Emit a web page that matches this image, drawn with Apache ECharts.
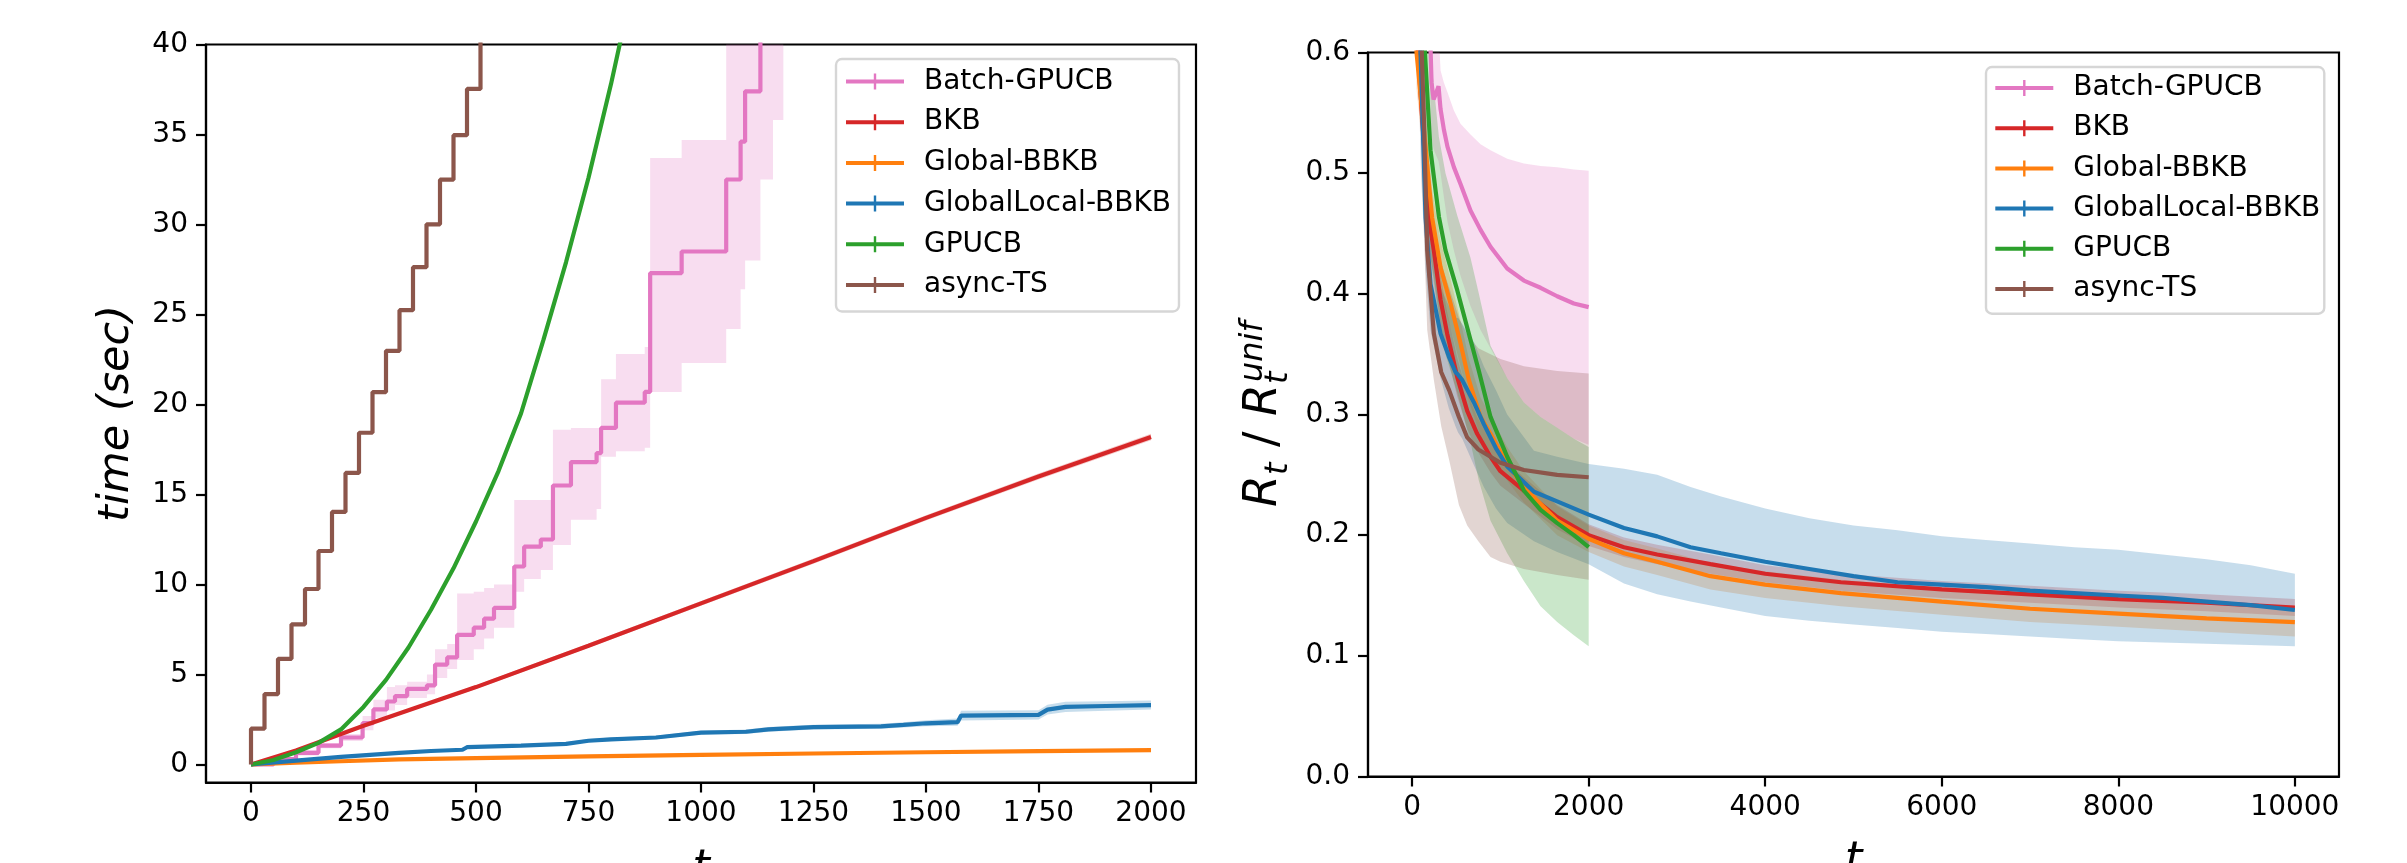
<!DOCTYPE html>
<html>
<head>
<meta charset="utf-8">
<title>Batch BO: time and regret</title>
<script src="https://cdn.jsdelivr.net/npm/echarts@6.0.0/dist/echarts.min.js"></script>
<style>
  html, body { margin: 0; padding: 0; background: #fff; }
  #chart { width: 2407px; height: 863px; }
</style>
</head>
<body>
<div id="chart"></div>
<script>
// -----------------------------------------------------------------------------
// Left: wall-clock time vs t. Right: normalised regret R_t / R_t^unif vs t.
// Values.
// -----------------------------------------------------------------------------
const METHODS = ["Batch-GPUCB", "BKB", "Global-BBKB", "GlobalLocal-BBKB", "GPUCB", "async-TS"];
const COLORS = {
  "Batch-GPUCB": "227,119,194",
  "BKB": "214,39,40",
  "Global-BBKB": "255,127,14",
  "GlobalLocal-BBKB": "31,119,180",
  "GPUCB": "44,160,44",
  "async-TS": "140,86,75"
};

// tick labels
const timeTicksT = [0, 250, 500, 750, 1000, 1250, 1500, 1750, 2000];
const timeTicksY = [0, 5, 10, 15, 20, 25, 30, 35, 40];
const ratioTicksT = [0, 2000, 4000, 6000, 8000, 10000];
const ratioTicksY = [0, 0.1, 0.2, 0.3, 0.4, 0.5, 0.6];

// --- left panel: time (sec) ---
const batchT = [0, 50, 100, 150, 200, 248, 272, 302, 320, 347, 391, 409, 436, 458, 495, 518, 540, 585, 607, 644, 671, 711, 768, 778, 811, 875, 887, 957, 1056, 1088, 1098, 1132, 1160, 1183];
const batchTime = [0, 0.3, 0.65, 1.05, 1.5, 2.3, 3.06, 3.5, 3.8, 4.2, 4.4, 5.55, 5.95, 7.2, 7.6, 8.1, 8.7, 11.0, 12.1, 12.5, 15.5, 16.8, 17.3, 18.7, 20.1, 20.7, 27.3, 28.5, 32.5, 34.6, 37.4, 43, 43, 43];
const batchTimeLo = [0, 0.2, 0.5, 0.9, 1.3, 1.9, 2.6, 3.0, 3.3, 3.7, 3.9, 4.8, 5.3, 5.8, 6.4, 7.0, 7.6, 9.6, 10.3, 10.8, 12.2, 13.6, 14.2, 17.1, 17.4, 17.6, 20.7, 22.3, 24.2, 26.4, 28.0, 32.5, 35.8, 35.8];
const batchTimeHi = [0, 0.4, 0.8, 1.2, 1.7, 2.7, 3.6, 4.3, 4.4, 4.6, 5.0, 6.4, 6.7, 9.5, 9.6, 9.8, 10.0, 14.7, 14.7, 14.7, 18.6, 18.7, 18.7, 21.4, 22.8, 23.2, 33.7, 34.7, 46, 46, 46, 46, 46, 46];

const bkbT = [0, 100, 250, 500, 750, 1000, 1250, 1500, 1750, 2000];
const bkbTime = [0, 0.78, 2.15, 4.3, 6.6, 8.95, 11.3, 13.7, 16.0, 18.2];
const bkbTimeLo = [0, 0.74, 2.08, 4.2, 6.48, 8.82, 11.15, 13.55, 15.84, 18.02];
const bkbTimeHi = [0, 0.82, 2.22, 4.4, 6.72, 9.08, 11.45, 13.85, 16.16, 18.38];

const globalT = [0, 100, 200, 329, 500, 750, 1000, 1250, 1500, 1750, 2000];
const globalTime = [0, 0.1, 0.18, 0.28, 0.35, 0.45, 0.53, 0.61, 0.68, 0.74, 0.8];
const globalTimeLo = [0, 0.08, 0.15, 0.24, 0.31, 0.41, 0.49, 0.56, 0.63, 0.69, 0.75];
const globalTimeHi = [0, 0.12, 0.21, 0.32, 0.39, 0.49, 0.57, 0.66, 0.73, 0.79, 0.85];

const localT = [0, 100, 200, 329, 400, 470, 480, 600, 700, 750, 800, 900, 1000, 1100, 1150, 1250, 1400, 1450, 1500, 1570, 1578, 1750, 1770, 1810, 1900, 2000];
const localTime = [0, 0.22, 0.42, 0.65, 0.75, 0.82, 0.96, 1.05, 1.15, 1.32, 1.4, 1.5, 1.77, 1.82, 1.95, 2.08, 2.12, 2.2, 2.29, 2.35, 2.72, 2.76, 3.05, 3.2, 3.25, 3.3];
const localTimeLo = [0, 0.2, 0.39, 0.6, 0.7, 0.77, 0.9, 0.98, 1.07, 1.23, 1.3, 1.4, 1.66, 1.7, 1.82, 1.95, 1.98, 2.05, 2.12, 2.15, 2.45, 2.5, 2.78, 2.92, 2.98, 3.05];
const localTimeHi = [0, 0.24, 0.45, 0.7, 0.8, 0.87, 1.02, 1.12, 1.23, 1.41, 1.5, 1.6, 1.88, 1.94, 2.08, 2.21, 2.26, 2.35, 2.46, 2.55, 2.99, 3.02, 3.32, 3.48, 3.52, 3.55];

const gpucbT = [0, 50, 100, 150, 200, 250, 300, 350, 400, 450, 500, 550, 600, 650, 700, 750, 800, 850];
const gpucbTime = [0, 0.25, 0.68, 1.2, 1.95, 3.2, 4.7, 6.5, 8.6, 10.9, 13.5, 16.3, 19.5, 23.6, 27.9, 32.6, 37.8, 43.5];

const asyncT = [0, 0, 30, 60, 90, 120, 150, 180, 210, 240, 270, 300, 330, 360, 390, 420, 450, 480, 510];
const asyncTime = [0, 1.99, 3.91, 5.87, 7.79, 9.75, 11.86, 14.03, 16.2, 18.43, 20.69, 22.98, 25.24, 27.63, 30.01, 32.49, 34.96, 37.53, 42];

// --- right panel: R_t / R_t^unif ---
const batchRT = [0, 150, 220, 243, 270, 299, 322, 360, 400, 473, 548, 661, 775, 888, 1077, 1266, 1455, 1643, 1832, 2000];
const batchRatio = [1.0, 0.75, 0.575, 0.561, 0.566, 0.572, 0.553, 0.536, 0.522, 0.505, 0.491, 0.469, 0.453, 0.439, 0.421, 0.411, 0.405, 0.398, 0.392, 0.389];
const batchRatioLo = [1.0, 0.7, 0.53, 0.52, 0.515, 0.51, 0.5, 0.48, 0.46, 0.436, 0.415, 0.39, 0.37, 0.355, 0.33, 0.31, 0.298, 0.289, 0.28, 0.275];
const batchRatioHi = [1.1, 0.8, 0.66, 0.65, 0.64, 0.62, 0.585, 0.575, 0.567, 0.552, 0.541, 0.532, 0.524, 0.519, 0.512, 0.508, 0.506, 0.505, 0.503, 0.502];

const bkbRT = [0, 65, 189, 246, 322, 397, 511, 624, 737, 888, 1000, 1266, 1643, 2000, 2400, 2776, 3380, 4000, 4858, 6000, 7000, 8000, 9000, 10000];
const bkbRatio = [1.0, 0.6, 0.463, 0.436, 0.395, 0.367, 0.331, 0.303, 0.284, 0.265, 0.253, 0.237, 0.215, 0.2, 0.19, 0.184, 0.176, 0.168, 0.161, 0.155, 0.151, 0.147, 0.144, 0.14];
const bkbRatioLo = [0.96, 0.57, 0.438, 0.414, 0.375, 0.349, 0.315, 0.288, 0.27, 0.252, 0.241, 0.226, 0.205, 0.191, 0.182, 0.176, 0.168, 0.161, 0.154, 0.148, 0.144, 0.14, 0.137, 0.133];
const bkbRatioHi = [1.04, 0.63, 0.488, 0.458, 0.415, 0.385, 0.347, 0.318, 0.298, 0.278, 0.265, 0.248, 0.225, 0.209, 0.198, 0.192, 0.184, 0.175, 0.168, 0.162, 0.158, 0.154, 0.151, 0.147];

const globalRT = [0, 50, 227, 322, 435, 548, 643, 775, 888, 1077, 1266, 1643, 2000, 2400, 2776, 3380, 4000, 4858, 6000, 7000, 8000, 9000, 10000];
const globalRatio = [1.0, 0.6, 0.463, 0.422, 0.392, 0.359, 0.3285, 0.298, 0.284, 0.259, 0.24, 0.212, 0.197, 0.185, 0.178, 0.166, 0.159, 0.152, 0.145, 0.139, 0.135, 0.131, 0.128];
const globalRatioLo = [0.95, 0.57, 0.44, 0.4, 0.372, 0.34, 0.311, 0.282, 0.269, 0.245, 0.227, 0.2, 0.186, 0.174, 0.167, 0.155, 0.148, 0.141, 0.134, 0.128, 0.124, 0.12, 0.116];
const globalRatioHi = [1.05, 0.63, 0.486, 0.444, 0.412, 0.378, 0.346, 0.314, 0.299, 0.273, 0.253, 0.224, 0.208, 0.196, 0.189, 0.177, 0.17, 0.163, 0.156, 0.15, 0.146, 0.142, 0.14];

const localRT = [0, 95, 152, 208, 322, 416, 492, 520, 568, 700, 812, 950, 1077, 1380, 1643, 2000, 2400, 2776, 3154, 3500, 4000, 4500, 5000, 5500, 6000, 6500, 7000, 7500, 8000, 8500, 9000, 9500, 10000];
const localRatio = [1.0, 0.6, 0.463, 0.408, 0.367, 0.348, 0.335, 0.333, 0.3285, 0.31, 0.292, 0.272, 0.257, 0.236, 0.228, 0.217, 0.206, 0.199, 0.19, 0.185, 0.178, 0.172, 0.166, 0.161, 0.159, 0.157, 0.154, 0.152, 0.15, 0.148, 0.145, 0.142, 0.138];
const localRatioLo = [0.9, 0.55, 0.42, 0.37, 0.33, 0.305, 0.29, 0.285, 0.28, 0.258, 0.24, 0.222, 0.21, 0.195, 0.186, 0.176, 0.16, 0.151, 0.145, 0.14, 0.133, 0.129, 0.126, 0.123, 0.12, 0.118, 0.116, 0.114, 0.112, 0.111, 0.11, 0.109, 0.108];
const localRatioHi = [1.1, 0.65, 0.51, 0.45, 0.405, 0.39, 0.38, 0.38, 0.375, 0.36, 0.34, 0.32, 0.3, 0.27, 0.265, 0.259, 0.255, 0.25, 0.24, 0.232, 0.222, 0.214, 0.208, 0.204, 0.199, 0.196, 0.193, 0.19, 0.188, 0.184, 0.18, 0.175, 0.168];

const gpucbRT = [0, 100, 145, 208, 303, 378, 511, 661, 756, 888, 1077, 1266, 1455, 1643, 1832, 2000];
const gpucbRatio = [1.0, 0.75, 0.6, 0.519, 0.464, 0.436, 0.403, 0.362, 0.336, 0.298, 0.265, 0.237, 0.221, 0.21, 0.2, 0.19];
const gpucbRatioLo = [0.9, 0.62, 0.5, 0.43, 0.38, 0.35, 0.318, 0.277, 0.245, 0.212, 0.185, 0.162, 0.141, 0.128, 0.117, 0.108];
const gpucbRatioHi = [1.1, 0.88, 0.7, 0.6, 0.53, 0.5, 0.465, 0.43, 0.4, 0.357, 0.33, 0.31, 0.298, 0.289, 0.28, 0.273];

const asyncRT = [0, 100, 133, 171, 246, 330, 420, 530, 624, 750, 888, 1000, 1266, 1643, 2000];
const asyncRatio = [1.0, 0.62, 0.546, 0.436, 0.367, 0.335, 0.32, 0.298, 0.281, 0.271, 0.265, 0.26, 0.254, 0.25, 0.248];
const asyncRatioLo = [0.8, 0.5, 0.45, 0.37, 0.3285, 0.29, 0.262, 0.225, 0.208, 0.195, 0.182, 0.178, 0.172, 0.167, 0.163];
const asyncRatioHi = [1.2, 0.75, 0.65, 0.53, 0.45, 0.425, 0.405, 0.38, 0.366, 0.355, 0.35, 0.346, 0.34, 0.336, 0.334];

// -----------------------------------------------------------------------------
const FONT = "DejaVu Sans";
const LINE_WIDTH = 4.2;
const BAND_ALPHA = 0.25;
const SPINE = 2.2;
// legend handle: a line with a small vertical bar (errorbar style)
const LEGEND_ICON = "path://M0,6H58V10H0Z M27.8,0H30.2V16H27.8Z";

const solid = (name) => `rgb(${COLORS[name]})`;

// post-step outline: value i is held until t[i+1]
function stepEdge(ts, vs) {
  const out = [];
  for (let i = 0; i < ts.length; i++) {
    out.push([ts[i], vs[i]]);
    if (i + 1 < ts.length) out.push([ts[i + 1], vs[i]]);
  }
  return out;
}

function bandSeries(name, axis, ts, lo, hi, step) {
  const upper = step ? stepEdge(ts, hi) : ts.map((t, i) => [t, hi[i]]);
  const lower = step ? stepEdge(ts, lo) : ts.map((t, i) => [t, lo[i]]);
  const outline = upper.concat(lower.reverse());
  return {
    type: "custom",
    name: name + " band",
    xAxisIndex: axis,
    yAxisIndex: axis,
    data: [[0, 0]],
    clip: true,
    silent: true,
    z: 1,
    renderItem: (params, api) => ({
      type: "polygon",
      shape: { points: outline.map((p) => api.coord(p)) },
      style: { fill: `rgba(${COLORS[name]}, ${BAND_ALPHA})` }
    })
  };
}

function lineSeries(name, axis, ts, vs, step) {
  return {
    type: "line",
    name,
    xAxisIndex: axis,
    yAxisIndex: axis,
    data: ts.map((t, i) => [t, vs[i]]),
    showSymbol: false,
    symbol: "none",
    step: step ? "end" : false,
    lineStyle: { width: LINE_WIDTH, color: solid(name) },
    itemStyle: { color: solid(name) },
    silent: true,
    z: 3
  };
}

function axisCommon(ticks, fmt, margin, extra) {
  return Object.assign({
    type: "value",
    axisLine: { show: true, onZero: false, lineStyle: { color: "#000", width: SPINE } },
    axisTick: { show: true, length: 10, customValues: ticks, lineStyle: { color: "#000", width: SPINE } },
    axisLabel: { customValues: ticks, formatter: fmt, margin, fontSize: 28, color: "#000", fontFamily: FONT },
    splitLine: { show: false }
  }, extra);
}

function legendBox(left, top, gap, padding) {
  return {
    data: METHODS,
    orient: "vertical",
    left,
    top,
    padding,
    itemGap: gap,
    itemWidth: 58,
    itemHeight: 16,
    icon: LEGEND_ICON,
    selectedMode: false,
    itemStyle: { borderWidth: 0 },
    textStyle: { fontSize: 28, color: "#000", fontFamily: FONT, padding: [0, 0, 0, 15] },
    backgroundColor: "rgba(255,255,255,0.8)",
    borderColor: "#d6d6d6",
    borderWidth: 2.4,
    borderRadius: 6
  };
}

// pieces of the mathtext label R_t / R_t^unif, in the rotated frame
function mathPiece(text, x, baseline, size, italic) {
  return {
    type: "text",
    style: {
      text,
      x,
      y: baseline - 0.346 * size,
      fontSize: size,
      fontStyle: italic ? "italic" : "normal",
      fontFamily: FONT,
      fill: "#000",
      align: "left",
      verticalAlign: "middle"
    }
  };
}

const plainInt = (v) => String(v);
const oneDecimal = (v) => v.toFixed(1);

const series = [
  bandSeries("Batch-GPUCB", 0, batchT, batchTimeLo, batchTimeHi, true),
  bandSeries("BKB", 0, bkbT, bkbTimeLo, bkbTimeHi, false),
  bandSeries("Global-BBKB", 0, globalT, globalTimeLo, globalTimeHi, false),
  bandSeries("GlobalLocal-BBKB", 0, localT, localTimeLo, localTimeHi, false),

  bandSeries("Batch-GPUCB", 1, batchRT, batchRatioLo, batchRatioHi, false),
  bandSeries("BKB", 1, bkbRT, bkbRatioLo, bkbRatioHi, false),
  bandSeries("Global-BBKB", 1, globalRT, globalRatioLo, globalRatioHi, false),
  bandSeries("GlobalLocal-BBKB", 1, localRT, localRatioLo, localRatioHi, false),
  bandSeries("GPUCB", 1, gpucbRT, gpucbRatioLo, gpucbRatioHi, false),
  bandSeries("async-TS", 1, asyncRT, asyncRatioLo, asyncRatioHi, false),

  lineSeries("Batch-GPUCB", 0, batchT, batchTime, true),
  lineSeries("BKB", 0, bkbT, bkbTime, false),
  lineSeries("Global-BBKB", 0, globalT, globalTime, false),
  lineSeries("GlobalLocal-BBKB", 0, localT, localTime, false),
  lineSeries("GPUCB", 0, gpucbT, gpucbTime, false),
  lineSeries("async-TS", 0, asyncT, asyncTime, true),

  lineSeries("Batch-GPUCB", 1, batchRT, batchRatio, false),
  lineSeries("BKB", 1, bkbRT, bkbRatio, false),
  lineSeries("Global-BBKB", 1, globalRT, globalRatio, false),
  lineSeries("GlobalLocal-BBKB", 1, localRT, localRatio, false),
  lineSeries("GPUCB", 1, gpucbRT, gpucbRatio, false),
  lineSeries("async-TS", 1, asyncRT, asyncRatio, false)
];

const chart = echarts.init(document.getElementById("chart"), null, { renderer: "canvas" });

// grids are placed by hand; keep v6 from shrinking them to fit the axis names
const gridBox = (left, top, width, height) => ({
  left, top, width, height,
  outerBoundsMode: "none",
  containLabel: false,
  show: true,
  borderColor: "#000",
  borderWidth: SPINE,
  backgroundColor: "transparent"
});

const nameStyle = (size) => ({ fontSize: size, fontStyle: "italic", color: "#000", fontFamily: FONT });

chart.setOption({
  animation: false,
  backgroundColor: "#fff",
  textStyle: { fontFamily: FONT },
  grid: [
    gridBox(206, 44.5, 990, 738),
    gridBox(1368, 52.5, 971, 724)
  ],
  xAxis: [
    axisCommon(timeTicksT, plainInt, 17, {
      gridIndex: 0, min: -100, max: 2100,
      name: "t", nameLocation: "middle", nameGap: 64, nameTextStyle: nameStyle(45)
    }),
    axisCommon(ratioTicksT, plainInt, 17, {
      gridIndex: 1, min: -500, max: 10500,
      name: "t", nameLocation: "middle", nameGap: 62, nameTextStyle: nameStyle(45)
    })
  ],
  yAxis: [
    axisCommon(timeTicksY, plainInt, 18, {
      gridIndex: 0, min: -1, max: 40,
      name: "time (sec)", nameLocation: "middle", nameGap: 68, nameTextStyle: nameStyle(43)
    }),
    axisCommon(ratioTicksY, oneDecimal, 18, { gridIndex: 1, min: 0, max: 0.6 })
  ],
  legend: [
    legendBox(836, 59, 12.7, [8.5, 8, 12.5, 10]),
    legendBox(1986, 67, 12.2, [7, 4, 10.7, 9.3])
  ],
  graphic: [{
    type: "group",
    x: 1280,
    y: 507,
    rotation: Math.PI / 2,
    silent: true,
    children: [
      mathPiece("R", 0, 0, 46, true),
      mathPiece("t", 32, 10, 32, true),
      mathPiece("/", 60, 0, 46, false),
      mathPiece("R", 91, 0, 46, true),
      mathPiece("t", 123, 10, 32, true),
      mathPiece("unif", 125, -15, 32, true)
    ]
  }],
  series
});
</script>
</body>
</html>
